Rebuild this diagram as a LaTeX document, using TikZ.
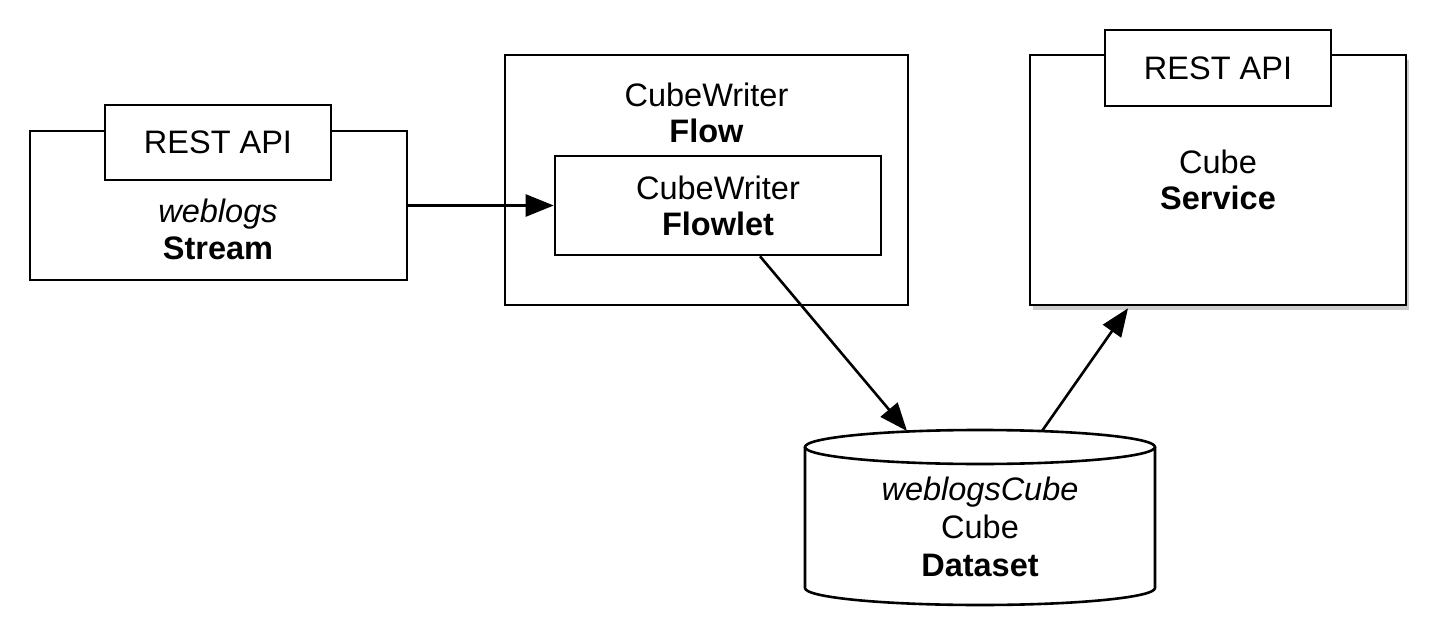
\documentclass[tikz,border=0pt]{standalone}
\usepackage{fontspec}
\setmainfont{Liberation Sans}
\usetikzlibrary{arrows.meta,shadows,calc}
\begin{document}
\begin{tikzpicture}[x=1pt,y=-1pt,
  lw/.style={line width=2.6pt},
  box/.style={draw, lw, fill=white, inner sep=0pt, align=center, font=\fontsize{32.5}{36}\selectfont},
  txt/.style={inner sep=0pt, align=center, font=\fontsize{32.5}{36}\selectfont},
  conn/.style={lw, -{Triangle[length=28pt,width=22pt]}}]
\useasboundingbox (0,0) rectangle (1447,636);
% Stream
\node[box, minimum width=377pt, minimum height=149pt] (stream) at (218.5,205.5) {};
\node[box, minimum width=226pt, minimum height=75pt] (api1) at (218,142.5) {REST API};
\node[txt, font=\fontsize{32.5}{37}\selectfont] (streamtxt) at (218,229) {\textit{weblogs}\\\textbf{Stream}};
% Flow
\node[box, minimum width=403pt, minimum height=250pt] (flow) at (706.5,180) {};
\node[txt] (flowtxt) at (706.5,112.5) {CubeWriter\\\textbf{Flow}};
\node[box, minimum width=326pt, minimum height=99pt] (flowlet) at (718,205.5) {CubeWriter\\\textbf{Flowlet}};
% Service
\node[box, minimum width=376pt, minimum height=250pt,
  drop shadow={opacity=0.4, shadow xshift=3pt, shadow yshift=-5pt}] (service) at (1218,180) {Cube\\\textbf{Service}};
\node[box, minimum width=226pt, minimum height=76pt] (api2) at (1218,68) {REST API};
% Dataset cylinder
\draw[lw, fill=white] (805,447) -- (805,588) arc[start angle=180, end angle=0, x radius=175, y radius=17] -- (1155,447);
\draw[lw] (980,447) ellipse[x radius=175, y radius=17];
\node[txt, font=\fontsize{32.5}{38}\selectfont] (ds) at (980,527) {\textit{weblogsCube}\\Cube\\\textbf{Dataset}};
\coordinate (dsin) at (907,431);
\coordinate (dsout) at (1042,431);
\coordinate (flowletout) at ($(flowlet.south)+(42,0)$);
\coordinate (servicein) at ($(service.south)+(-90,2)$);
% Connectors
\draw[conn] (stream) -- (flowlet);
\draw[conn] (flowletout) -- (dsin);
\draw[conn] (dsout) -- (servicein);
\end{tikzpicture}
\end{document}
